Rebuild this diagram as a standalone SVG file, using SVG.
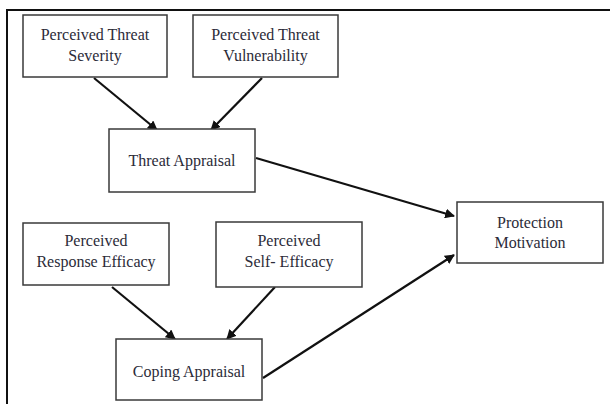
<svg xmlns="http://www.w3.org/2000/svg" width="610" height="404" viewBox="0 0 610 404">
<style>
.box{fill:#fff;stroke:#3a3a3a;stroke-width:1.5}
.t{font-family:"Liberation Serif","DejaVu Serif",serif;font-size:16px;fill:#2b2b38;text-anchor:middle}
.edge{stroke:#111;stroke-width:2.2;fill:none;marker-end:url(#ah)}
</style>
<defs>
<marker id="ah" viewBox="0 0 10 10" refX="9" refY="5" markerWidth="4.5" markerHeight="4.5" orient="auto" markerUnits="strokeWidth">
<path d="M0,0 L10,5 L0,10 z" fill="#111"/>
</marker>
</defs>
<rect width="610" height="404" fill="#fff"/>
<path d="M7,404 L7,10 L610,10" fill="none" stroke="#111" stroke-width="2"/>
<g id="connectors">
<line class="edge" x1="94" y1="78" x2="157" y2="130"/>
<line class="edge" x1="262" y1="78" x2="211" y2="130"/>
<line class="edge" x1="256" y1="158" x2="454" y2="216"/>
<line class="edge" x1="112" y1="287" x2="175" y2="339"/>
<line class="edge" x1="275" y1="287" x2="227" y2="339"/>
<line class="edge" x1="263" y1="378" x2="454" y2="255"/>
</g>
<g id="severity">
<rect class="box" x="23" y="15" width="144" height="62"/>
<text class="t" x="95" y="40">Perceived Threat</text>
<text class="t" x="95" y="61">Severity</text>
</g>
<g id="vulnerability">
<rect class="box" x="193" y="15" width="145" height="62"/>
<text class="t" x="265.5" y="40">Perceived Threat</text>
<text class="t" x="265.5" y="61">Vulnerability</text>
</g>
<g id="threat-appraisal">
<rect class="box" x="109" y="129" width="146" height="63"/>
<text class="t" x="182" y="166">Threat Appraisal</text>
</g>
<g id="protection-motivation">
<rect class="box" x="457" y="202" width="146" height="61"/>
<text class="t" x="530" y="228">Protection</text>
<text class="t" x="530" y="248">Motivation</text>
</g>
<g id="response-efficacy">
<rect class="box" x="23" y="223" width="146" height="62"/>
<text class="t" x="96" y="246">Perceived</text>
<text class="t" x="96" y="267">Response Efficacy</text>
</g>
<g id="self-efficacy">
<rect class="box" x="216" y="222" width="146" height="65"/>
<text class="t" x="289" y="246">Perceived</text>
<text class="t" x="289" y="267">Self-  Efficacy</text>
</g>
<g id="coping-appraisal">
<rect class="box" x="116" y="339" width="146" height="61"/>
<text class="t" x="189" y="377">Coping Appraisal</text>
</g>
</svg>
